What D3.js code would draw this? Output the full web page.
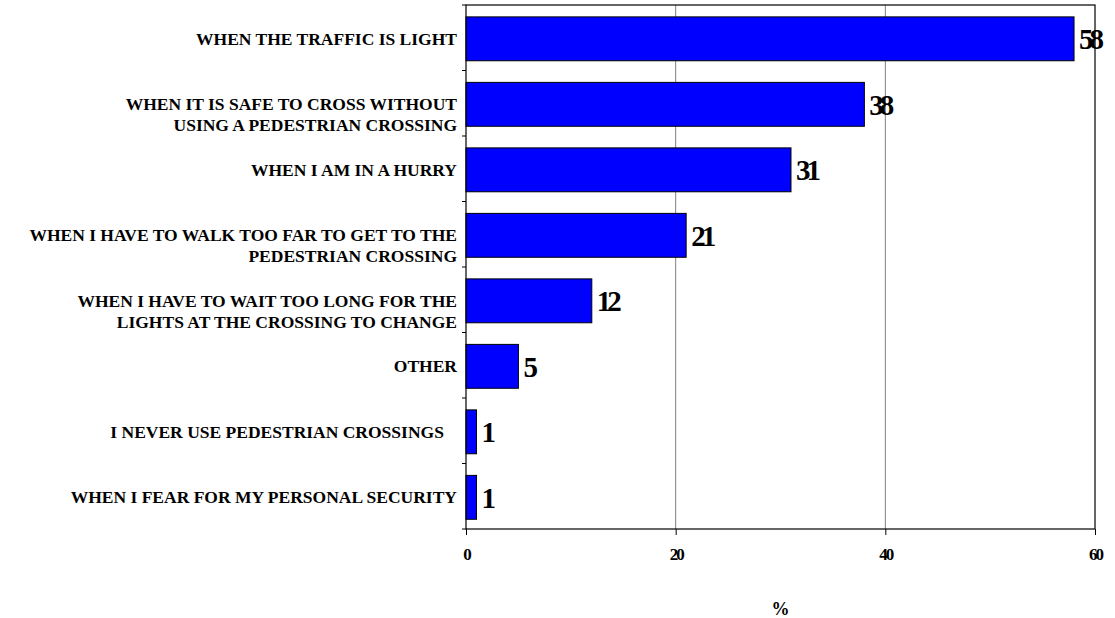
<!DOCTYPE html>
<html>
<head>
<meta charset="utf-8">
<script src="https://cdn.jsdelivr.net/npm/d3@7"></script>
<style>
  html, body { margin: 0; padding: 0; background: #fff; }
  svg { display: block; }
  text { font-family: "Liberation Serif", "Times New Roman", serif; font-weight: bold; }
</style>
</head>
<body>
<svg id="chart" width="1115" height="618"></svg>
<script>
const categories = [
  ["WHEN THE TRAFFIC IS LIGHT"],
  ["WHEN IT IS SAFE TO CROSS WITHOUT", "USING A PEDESTRIAN CROSSING"],
  ["WHEN I AM IN A HURRY"],
  ["WHEN I HAVE TO WALK TOO FAR TO GET TO THE", "PEDESTRIAN CROSSING"],
  ["WHEN I HAVE TO WAIT TOO LONG FOR THE", "LIGHTS AT THE CROSSING TO CHANGE"],
  ["OTHER"],
  ["I NEVER USE PEDESTRIAN CROSSINGS   "],
  ["WHEN I FEAR FOR MY PERSONAL SECURITY"]
];
const values = [58, 38, 31, 21, 12, 5, 1, 1];
const xTicks = [0, 20, 40, 60];
const xTitle = "%";

const svg = d3.select("#chart");
const L = 466, R = 1095, T = 5, B = 529;

const x = d3.scaleLinear().domain([0, 60]).range([L, R]);
const idx = d3.range(categories.length);
const y = d3.scaleBand().domain(idx).range([T, B]).paddingInner(0.33).paddingOuter(0.165).align(0.55);

// gridlines
svg.append("g").selectAll("line").data(xTicks.filter(d => d > 0 && d < 60)).join("line")
  .attr("x1", d => x(d)).attr("x2", d => x(d)).attr("y1", T).attr("y2", B)
  .attr("stroke", "#808080").attr("stroke-width", 1);

// bars
svg.append("g").selectAll("rect").data(idx).join("rect")
  .attr("x", x(0))
  .attr("y", i => y(i))
  .attr("width", i => x(values[i]) - x(0))
  .attr("height", y.bandwidth())
  .attr("fill", "#0000ff").attr("stroke", "#000").attr("stroke-width", 1);

// plot border
svg.append("rect").attr("x", L).attr("y", T).attr("width", R - L).attr("height", B - T)
  .attr("fill", "none").attr("stroke", "#000").attr("stroke-width", 1.2);

// y ticks at band boundaries
const bounds = d3.range(categories.length + 1).map(i => T + i * (B - T) / categories.length);
svg.append("g").selectAll("line").data(bounds).join("line")
  .attr("x1", L - 4).attr("x2", L).attr("y1", d => d).attr("y2", d => d)
  .attr("stroke", "#000");

// x axis ticks & labels
const xAxis = d3.axisBottom(x).tickValues(xTicks).tickSize(6).tickSizeOuter(0).tickFormat(d3.format("d"));
const gx = svg.append("g").attr("transform", `translate(0,${B})`).call(xAxis);
gx.select(".domain").remove();
gx.selectAll(".tick line").attr("stroke", "#000");
gx.selectAll(".tick text")
  .attr("y", 31).attr("dy", "0")
  .style("font-family", "'Liberation Serif', 'Times New Roman', serif")
  .style("font-weight", "bold").style("font-size", "17px")
  .style("letter-spacing", "-2px").attr("fill", "#000");

// x title
svg.append("text").attr("x", (L + R) / 2).attr("y", 615)
  .attr("text-anchor", "middle").style("font-size", "18px").text(xTitle);

// category labels
const lab = svg.append("g");
idx.forEach(i => {
  const cy = y(i) + y.bandwidth() / 2;
  const t = lab.append("text").attr("text-anchor", "end")
    .style("font-size", "17.5px").style("white-space", "pre").attr("fill", "#000");
  categories[i].forEach((line, j) => {
    t.append("tspan").attr("x", 457).attr("y", cy + j * 21).attr("dy", "0.35em").text(line);
  });
});

// value labels
svg.append("g").selectAll("text").data(idx).join("text")
  .attr("x", i => x(values[i]) + 5)
  .attr("y", i => y(i) + y.bandwidth() / 2)
  .attr("dy", "0.36em")
  .style("font-size", "29px").style("letter-spacing", "-4px")
  .attr("fill", "#000")
  .text(i => values[i]);
</script>
</body>
</html>
